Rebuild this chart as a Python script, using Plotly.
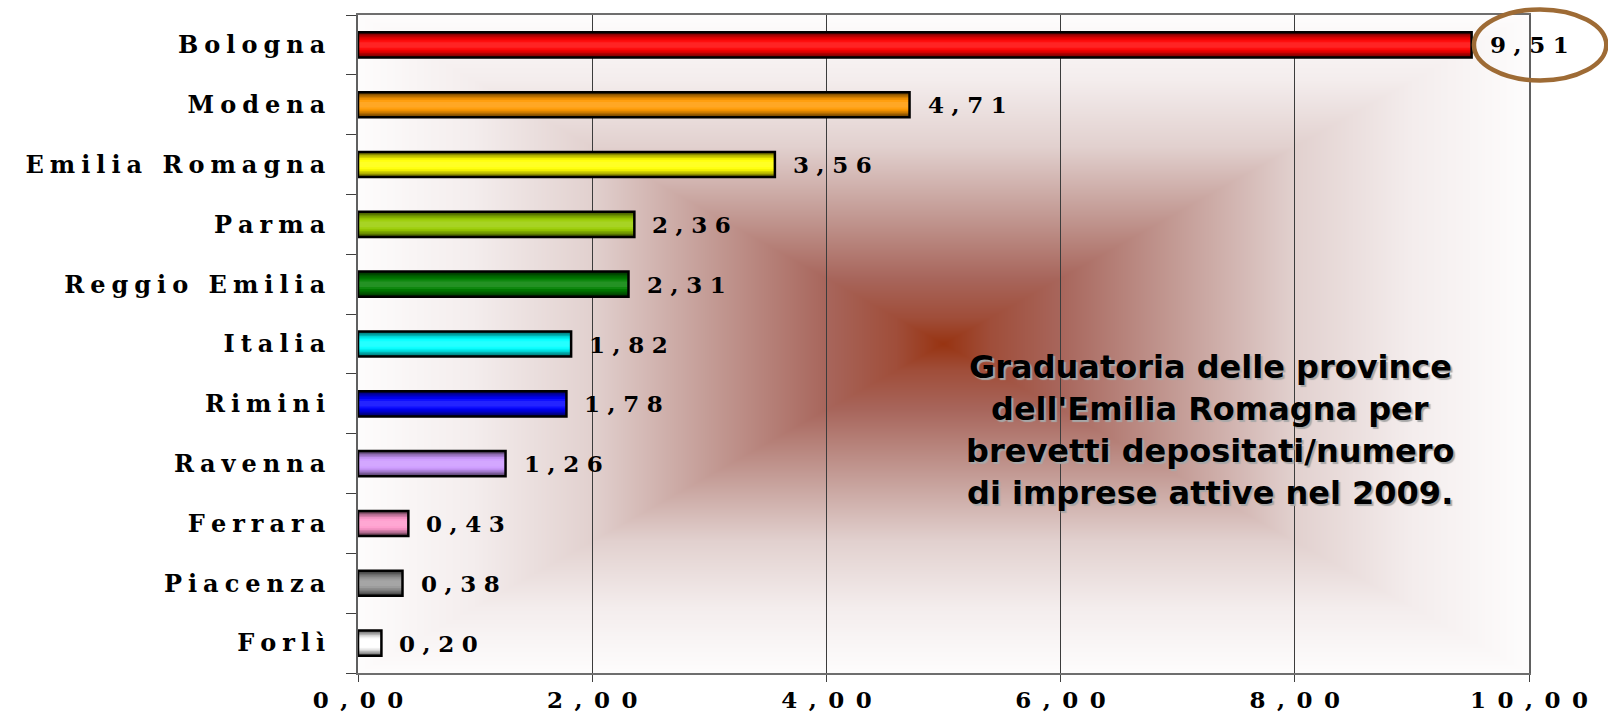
import base64
import struct
import zlib

import numpy as np
import plotly.graph_objects as go

# Brevetti depositati / numero di imprese attive, 2009
provinces = ["Bologna", "Modena", "Emilia Romagna", "Parma", "Reggio Emilia",
             "Italia", "Rimini", "Ravenna", "Ferrara", "Piacenza", "Forlì"]
values = [9.51, 4.71, 3.56, 2.36, 2.31, 1.82, 1.78, 1.26, 0.43, 0.38, 0.20]
bar_colors = ["#FF0000", "#FF9900", "#FFFF00", "#99CC00", "#008000", "#00FFFF",
              "#0000FF", "#CC99FF", "#FF99CC", "#969696", "#FFFFFF"]
x_ticks = [0, 2, 4, 6, 8, 10]
x_max = 10

title_lines = ["Graduatoria delle province",
               "dell'Emilia Romagna per",
               "brevetti depositati/numero",
               "di imprese attive nel 2009."]


def spaced(s, sep="\u2005"):
    return sep.join(s)


def fmt(v):
    return f"{v:.2f}".replace(".", ",")


def hex_rgb(h):
    h = h.lstrip("#")
    return tuple(int(h[i:i + 2], 16) for i in (0, 2, 4))


def mix(h, target, a):
    r, g, b = hex_rgb(h)
    tr, tg, tb = target
    return "rgb(%d,%d,%d)" % (round(r + (tr - r) * a), round(g + (tg - g) * a), round(b + (tb - b) * a))


def png_data_uri(rgb):
    h, w, _ = rgb.shape
    raw = b"".join(b"\x00" + rgb[y].tobytes() for y in range(h))

    def chunk(tag, data):
        c = struct.pack(">I", len(data)) + tag + data
        return c + struct.pack(">I", zlib.crc32(tag + data) & 0xFFFFFFFF)

    png = (b"\x89PNG\r\n\x1a\n"
           + chunk(b"IHDR", struct.pack(">IIBBBBB", w, h, 8, 2, 0, 0, 0))
           + chunk(b"IDAT", zlib.compress(raw, 9))
           + chunk(b"IEND", b""))
    return "data:image/png;base64," + base64.b64encode(png).decode()


# rectangular "from centre" fill of the plot area: brown core fading to white
W, H = 1171, 658
xx = (np.arange(W) + 0.5 - W / 2) / (W / 2)
yy = (np.arange(H) + 0.5 - H / 2) / (H / 2)
t = np.maximum(np.abs(xx)[None, :], np.abs(yy)[:, None])
stops = [0.0, 0.08, 0.2, 0.4, 0.6, 0.8, 1.0]
reds = [152, 160, 168, 196, 226, 244, 254]
greens = [52, 78, 102, 156, 209, 237, 253]
blues = [18, 58, 92, 150, 207, 237, 253]
bg = np.stack([np.interp(t, stops, reds), np.interp(t, stops, greens),
               np.interp(t, stops, blues)], axis=-1).astype(np.uint8)
bg_src = png_data_uri(bg)

fig = go.Figure()

# bars drawn as nested bands to give the cylinder shading
BAR_W = 0.42
bands = [(1.00, (0, 0, 0), 0.60), (0.88, (0, 0, 0), 0.45), (0.76, (0, 0, 0), 0.30),
         (0.64, (0, 0, 0), 0.17), (0.52, (0, 0, 0), 0.06), (0.38, (255, 255, 255), 0.06),
         (0.22, (255, 255, 255), 0.14)]
for frac, target, amount in bands:
    fig.add_trace(go.Bar(
        x=values, y=provinces, orientation="h", width=BAR_W * frac,
        marker=dict(color=[mix(c, target, amount) for c in bar_colors], line=dict(width=0)),
        hoverinfo="skip"))

# outline on top
fig.add_trace(go.Bar(
    x=values, y=provinces, orientation="h", width=BAR_W,
    marker=dict(color="rgba(0,0,0,0)", line=dict(color="black", width=2.5)),
    hoverinfo="skip"))

annotations = []
for p, v in zip(provinces, values):
    annotations.append(dict(
        x=v, y=p, xref="x", yref="y", xanchor="left", yanchor="middle",
        xshift=16, showarrow=False, text=spaced(fmt(v), "\u2004"),
        font=dict(family="DejaVu Serif", size=23, color="black", weight="bold")))

# caption, one annotation per line
line_top = 0.465
line_step = 42 / 658
for k, line in enumerate(title_lines):
    annotations.append(dict(
        x=0.728, y=line_top - k * line_step, xref="paper", yref="paper",
        xanchor="center", yanchor="middle", showarrow=False, text=line,
        font=dict(family="DejaVu Sans", size=32, color="black", weight="bold",
                  shadow="2px 2px 1px #a8a8a8")))

# highlight ring around the top value
top_x = values[0] / x_max
top_y = 1 - 0.5 / len(provinces)
shapes = [dict(type="circle", xref="paper", yref="paper",
               x0=top_x + 0.002, x1=top_x + 0.115,
               y0=top_y - 0.054, y1=top_y + 0.054,
               line=dict(color="#9E6B35", width=4.5))]

fig.update_layout(
    width=1608, height=716,
    margin=dict(l=358, r=79, t=15, b=43, autoexpand=False),
    paper_bgcolor="white", plot_bgcolor="rgba(0,0,0,0)",
    barmode="overlay", showlegend=False,
    annotations=annotations, shapes=shapes,
    images=[dict(source=bg_src, xref="paper", yref="paper", x=0, y=1,
                 sizex=1, sizey=1, xanchor="left", yanchor="top",
                 sizing="stretch", layer="below")],
    xaxis=dict(range=[0, x_max], tickvals=x_ticks, automargin=False,
               ticktext=[spaced(fmt(v), "\u2002") for v in x_ticks],
               showgrid=True, gridcolor="#3c3c3c", gridwidth=1, zeroline=False,
               showline=True, linecolor="#6e6e6e", linewidth=2, mirror=True,
               ticks="outside", ticklen=7, tickcolor="#404040",
               ticklabelstandoff=-2,
               tickfont=dict(family="DejaVu Serif", size=23, color="black", weight="bold")),
    yaxis=dict(type="category", categoryorder="array", categoryarray=provinces,
               autorange="reversed", tickson="boundaries", automargin=False,
               tickvals=provinces, ticktext=[spaced(p) for p in provinces],
               showgrid=False, zeroline=False,
               showline=True, linecolor="#606060", linewidth=2, mirror=True,
               ticks="outside", ticklen=10, tickcolor="#404040",
               ticklabelstandoff=26,
               tickfont=dict(family="DejaVu Serif", size=24, color="black", weight="bold")),
)

fig.write_html("out.html")
